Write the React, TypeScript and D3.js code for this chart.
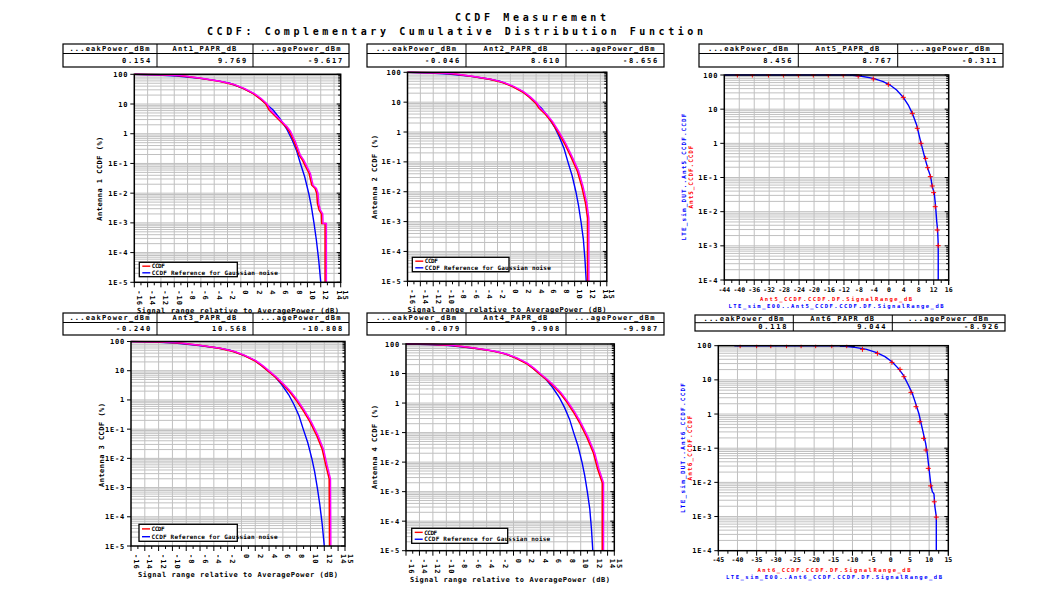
import React, { useEffect, useRef } from "react";
import * as d3 from "d3";

type Pt = [number, number];

const FONT = "'DejaVu Sans Mono', 'Liberation Mono', monospace";

const titleLines = ["CCDF Measurement", "CCDF: Complementary Cumulative Distribution Function"];

const peakHeader = "...eakPower_dBm";
const avgHeader = "...agePower_dBm";
const paprHeaders = ["Ant1_PAPR_dB", "Ant2_PAPR_dB", "Ant5_PAPR_dB", "Ant3_PAPR_dB", "Ant4_PAPR_dB", "Ant6_PAPR_dB"];
const peakValues = ["0.154", "-0.046", "8.456", "-0.240", "-0.079", "0.118"];
const paprValues = ["9.769", "8.610", "8.767", "10.568", "9.908", "9.044"];
const avgValues = ["-9.617", "-8.656", "-0.311", "-10.808", "-9.987", "-8.926"];

const yDecadeValues = [100, 10, 1, 0.1, 0.01, 0.001, 1e-4, 1e-5];
const yDecadeLabels = ["100", "10", "1", "1E-1", "1E-2", "1E-3", "1E-4", "1E-5"];

const xTicksRel = [-16, -14, -12, -10, -8, -6, -4, -2, 0, 2, 4, 6, 8, 10, 12, 14];
const xTicksAnt5 = [-44, -40, -36, -32, -28, -24, -20, -16, -12, -8, -4, 0, 4, 8, 12, 16];
const xTicksAnt6 = [-45, -40, -35, -30, -25, -20, -15, -10, -5, 0, 5, 10, 15];

const legendLabels = ["CCDF", "CCDF Reference for Gaussian noise"];
const antennaYLabels = ["Antenna 1 CCDF (%)", "Antenna 2 CCDF (%)", "Antenna 3 CCDF (%)", "Antenna 4 CCDF (%)"];
const xTitleRel = "Signal range relative to AveragePower (dB)";
const ant5YLabels = ["LTE_sim_DUT..Ant5_CCDF.CCDF", "Ant5_CCDF.CCDF"];
const ant5XLabels = ["Ant5_CCDF.CCDF.DF.SignalRange_dB", "LTE_sim_E00..Ant5_CCDF.CCDF.DF.SignalRange_dB"];
const ant6YLabels = ["LTE_sim_DUT..Ant6_CCDF.CCDF", "Ant6_CCDF.CCDF"];
const ant6XLabels = ["Ant6_CCDF.CCDF.DF.SignalRange_dB", "LTE_sim_E00..Ant6_CCDF.CCDF.DF.SignalRange_dB"];

// Antenna 1
const ant1Ccdf: Pt[] = [
  [-16, 100], [-12, 97], [-9, 90], [-6, 74], [-3, 57], [-1, 45], [0.5, 33], [2, 22], [3, 15], [3.85, 10],
  [4.35, 6.3], [5.35, 3.74], [6.1, 2.54], [6.85, 1.72], [7.35, 1.23], [8.1, 0.537], [8.85, 0.19], [9.35, 0.129],
  [9.85, 0.077], [10.35, 0.046], [10.75, 0.0186], [11.25, 0.0144], [11.5, 0.0098], [11.6, 0.0045], [11.85, 0.0027],
  [12.2, 0.002], [12.25, 0.00095], [12.75, 0.00095], [12.75, 1e-5],
];
const ant1Gauss: Pt[] = [
  [-16, 100], [-12.65, 95], [-9.65, 88], [-6.15, 73], [-3.65, 61], [-1.65, 50], [0.35, 33.7], [1.85, 22.9],
  [2.85, 15.5], [3.85, 9.8], [4.85, 6.3], [5.85, 3.3], [6.85, 1.5], [7.6, 0.7], [8.35, 0.28], [8.95, 0.1],
  [9.6, 0.035], [10.2, 0.0098], [10.6, 0.0035], [11.0, 0.00095], [11.35, 0.00026], [11.7, 5.5e-5], [12.0, 1e-5],
];
// Antenna 2
const ant2Ccdf: Pt[] = [
  [-16, 100], [-12, 97], [-9, 90], [-6, 74], [-3, 58], [-1, 45], [0.5, 33], [2, 22], [3, 15], [4, 9.5],
  [4.5, 6.5], [5.5, 4], [6.5, 2.2], [7.5, 1.0], [8.5, 0.42], [9.5, 0.15], [10.5, 0.05], [11.2, 0.015],
  [11.8, 0.004], [12.1, 0.0013], [12.1, 1e-5],
];
const ant2Gauss: Pt[] = [
  [-16, 100], [-12.65, 95], [-9.65, 88], [-6.15, 73], [-3.65, 61], [-1.65, 50], [0.35, 33.7], [1.85, 22.9],
  [2.85, 15.5], [3.85, 9.8], [4.85, 6.3], [5.85, 3.3], [6.85, 1.5], [7.6, 0.7], [8.35, 0.28], [8.95, 0.1],
  [9.6, 0.035], [10.2, 0.0098], [10.6, 0.0035], [11.0, 0.00095], [11.35, 0.00026], [11.6, 5.5e-5], [11.8, 1e-5],
];
// Antenna 3
const ant3Ccdf: Pt[] = [
  [-16, 100], [-12, 97], [-9, 90], [-6, 74], [-3, 58], [-1, 45], [0.5, 33], [2, 22], [3, 15], [4, 9.5],
  [5, 6], [6, 3.5], [7, 2], [8, 1], [9, 0.45], [10, 0.18], [11, 0.06], [11.8, 0.02], [12.3, 0.006],
  [12.8, 0.002], [12.85, 1e-5],
];
const ant3Gauss: Pt[] = [
  [-16, 100], [-12.65, 95], [-9.65, 88], [-6.15, 73], [-3.65, 61], [-1.65, 50], [0.35, 33.7], [1.85, 22.9],
  [2.85, 15.5], [3.85, 9.8], [4.85, 6.3], [5.85, 3.3], [6.85, 1.5], [7.6, 0.7], [8.35, 0.28], [8.95, 0.1],
  [9.6, 0.035], [10.2, 0.0098], [10.6, 0.0035], [11.0, 0.00095], [11.35, 0.00026], [11.7, 5.5e-5], [12.0, 1e-5],
];
// Antenna 4
const ant4Ccdf: Pt[] = [
  [-16, 100], [-12, 97], [-9, 90], [-6, 74], [-3, 58], [-1, 45], [0.5, 33], [2, 22], [3, 15], [4, 9.5],
  [5, 6.2], [6, 3.8], [7, 2.2], [8, 1.1], [9, 0.5], [10, 0.2], [11, 0.07], [12, 0.02], [12.6, 0.006],
  [13.3, 0.002], [13.3, 1e-5],
];
const ant4Gauss: Pt[] = [
  [-16, 100], [-12.65, 95], [-9.65, 88], [-6.15, 73], [-3.65, 61], [-1.65, 50], [0.35, 33.7], [1.85, 22.9],
  [2.85, 15.5], [3.85, 9.8], [4.85, 6.3], [5.85, 3.3], [6.85, 1.5], [7.6, 0.7], [8.35, 0.28], [8.95, 0.1],
  [9.6, 0.035], [10.2, 0.0098], [10.6, 0.0035], [11.0, 0.00095], [11.35, 0.00026], [11.6, 5.5e-5], [11.8, 1e-5],
];
// Antenna 5 (dataset comparison)
const ant5Sim: Pt[] = [
  [-44, 100], [-10.4, 100], [-7.7, 93.5], [-4.16, 79.8], [-1.5, 63.8], [0.3, 50.9], [2.08, 36.4], [3.86, 22.2],
  [5.2, 13.2], [6.27, 7.55], [7.43, 3.44], [8.5, 1.12], [9.65, 0.364], [10.55, 0.166], [11.17, 0.106],
  [11.6, 0.054], [12.15, 0.0344], [12.5, 0.014], [12.8, 0.0051], [13.04, 0.0029], [13.2, 0.00106], [13.2, 1e-4],
];
const ant5Meas: Pt[] = [
  [-40.5, 100], [-36.5, 100], [-32.2, 100], [-28.2, 100], [-24.2, 100], [-20.2, 100], [-16.2, 100], [-12.2, 100],
  [-8.2, 93.5], [-4.16, 76.4], [-0.15, 53.3], [3.86, 22.2], [6.27, 7.55], [7.6, 2.75], [8.6, 1.0], [9.83, 0.364],
  [10.37, 0.194], [11.08, 0.106], [11.6, 0.0564], [11.97, 0.036], [12.4, 0.014], [12.95, 0.0029], [13.2, 0.00101],
];
const ant5Other: Pt[] = [[-10.4, 100], [-8.5, 99], [-7.2, 96]];
// Antenna 6 (dataset comparison)
const ant6Sim: Pt[] = [
  [-40.8, 100], [-13.3, 100], [-9.35, 89.4], [-6.3, 78.2], [-3.7, 62.4], [-1.52, 47.6], [0.3, 34], [1.96, 21.7],
  [3.26, 13.8], [4.57, 7.06], [5.6, 4.03], [6.48, 2.05], [7.35, 1], [8.2, 0.38], [9.09, 0.138], [9.52, 0.0708],
  [9.96, 0.0257], [10.4, 0.0093], [10.83, 0.0053], [11.26, 0.0046], [11.5, 0.00195], [11.87, 0.001], [11.87, 1e-4],
];
const ant6Meas: Pt[] = [
  [-39.3, 100], [-35, 100], [-31.3, 100], [-27.2, 100], [-23.4, 100], [-19.6, 100], [-15.4, 100], [-11.5, 100],
  [-7.4, 78.2], [-3.5, 59.7], [0.3, 32.5], [2.4, 20.3], [3.43, 12.4], [5.26, 4.3], [6.57, 1.64], [7.6, 0.597],
  [8.57, 0.194], [9.17, 0.0883], [9.78, 0.0257], [10.4, 0.0079], [11.35, 0.0027], [11.87, 0.00096],
];
const ant6Other: Pt[] = [[-13.3, 99], [-11, 98.5], [-9.4, 94]];

interface Table { x: number[]; y: number[] }
interface Panel {
  idx: number;
  table: Table;
  plot: { l: number; r: number; t: number; b: number };
  xDomain: [number, number];
  xTicks: number[];
  rotateX: boolean;
  yMin: number;
  red: Pt[];
  blue: Pt[];
  other?: Pt[];
  kind: "rel" | "cmp";
  yLabel?: { text: string; x: number; y: number; len: number };
  xLabel?: { x: number; y: number; len: number };
  legend?: { x: number; y: number; w: number; h: number; len: number };
  cmpY?: { texts: string[]; x: number[]; y: number; len: number[] };
  cmpX?: { texts: string[]; y: number[]; x: number; len: number[] };
}

const panels: Panel[] = [
  {
    idx: 0,
    table: { x: [63, 157, 253, 349], y: [44, 53.5, 67] },
    plot: { l: 134.3, r: 340.7, t: 74.3, b: 282.3 },
    xDomain: [-16, 15], xTicks: xTicksRel, rotateX: true, yMin: 1e-5,
    red: ant1Ccdf, blue: ant1Gauss, kind: "rel",
    yLabel: { text: antennaYLabels[0], x: 102, y: 178.7, len: 84 },
    xLabel: { x: 238, y: 312.5, len: 202 },
    legend: { x: 139.3, y: 262.3, w: 98, h: 14.4, len: 126 },
  },
  {
    idx: 1,
    table: { x: [367, 466, 566, 664], y: [44, 53.5, 67] },
    plot: { l: 407.5, r: 606.8, t: 72.3, b: 281.3 },
    xDomain: [-16, 15], xTicks: xTicksRel, rotateX: true, yMin: 1e-5,
    red: ant2Ccdf, blue: ant2Gauss, kind: "rel",
    yLabel: { text: antennaYLabels[1], x: 377, y: 177, len: 84 },
    xLabel: { x: 507, y: 311.5, len: 199 },
    legend: { x: 412.3, y: 257.3, w: 96.7, h: 14.4, len: 126 },
  },
  {
    idx: 2,
    table: { x: [699, 798.3, 897.7, 1003], y: [44, 53.5, 67] },
    plot: { l: 724.3, r: 948.7, t: 75, b: 280 },
    xDomain: [-44, 16], xTicks: xTicksAnt5, rotateX: false, yMin: 1e-4,
    red: ant5Meas, blue: ant5Sim, other: ant5Other, kind: "cmp",
    cmpY: { texts: ant5YLabels, x: [686, 692.5], y: 177, len: [127, 63] },
    cmpX: { texts: ant5XLabels, y: [300.5, 307.5], x: 836, len: [152, 215] },
  },
  {
    idx: 3,
    table: { x: [63, 157, 253, 349], y: [313, 322.5, 335] },
    plot: { l: 131, r: 345, t: 341.5, b: 546 },
    xDomain: [-16, 15], xTicks: xTicksRel, rotateX: true, yMin: 1e-5,
    red: ant3Ccdf, blue: ant3Gauss, kind: "rel",
    yLabel: { text: antennaYLabels[2], x: 104, y: 445, len: 84 },
    xLabel: { x: 238, y: 576.5, len: 200 },
    legend: { x: 139, y: 524.3, w: 98.3, h: 17, len: 126 },
  },
  {
    idx: 4,
    table: { x: [367, 466, 566, 664], y: [313, 322.5, 335] },
    plot: { l: 406, r: 614.3, t: 344, b: 550.7 },
    xDomain: [-16, 15], xTicks: xTicksRel, rotateX: true, yMin: 1e-5,
    red: ant4Ccdf, blue: ant4Gauss, kind: "rel",
    yLabel: { text: antennaYLabels[3], x: 377, y: 447, len: 84 },
    xLabel: { x: 510, y: 581.5, len: 200 },
    legend: { x: 411.7, y: 528.3, w: 96, h: 15, len: 126 },
  },
  {
    idx: 5,
    table: { x: [695, 793.3, 892.3, 1005], y: [315, 322.7, 331] },
    plot: { l: 718.3, r: 948.3, t: 345.7, b: 550.7 },
    xDomain: [-45, 15], xTicks: xTicksAnt6, rotateX: false, yMin: 1e-4,
    red: ant6Meas, blue: ant6Sim, other: ant6Other, kind: "cmp",
    cmpY: { texts: ant6YLabels, x: [685, 691.5], y: 448, len: [130, 65] },
    cmpX: { texts: ant6XLabels, y: [571.5, 578.5], x: 834, len: [153, 216] },
  },
];

function drawPanel(svg: d3.Selection<SVGSVGElement, unknown, null, undefined>, p: Panel) {
  const g = svg.append("g");
  const t = p.table;
  // table
  g.append("rect").attr("x", t.x[0]).attr("y", t.y[0]).attr("width", t.x[3] - t.x[0]).attr("height", t.y[2] - t.y[0])
    .attr("fill", "none").attr("stroke", "#000").attr("stroke-width", 1.2);
  g.append("line").attr("x1", t.x[0]).attr("x2", t.x[3]).attr("y1", t.y[1]).attr("y2", t.y[1]).attr("stroke", "#000");
  [1, 2].forEach((i) => g.append("line").attr("x1", t.x[i]).attr("x2", t.x[i]).attr("y1", t.y[0]).attr("y2", t.y[2]).attr("stroke", "#000"));
  const headers = [peakHeader, paprHeaders[p.idx], avgHeader];
  const values = [peakValues[p.idx], paprValues[p.idx], avgValues[p.idx]];
  headers.forEach((h, i) => {
    g.append("text").attr("x", (t.x[i] + t.x[i + 1]) / 2).attr("y", (t.y[0] + t.y[1]) / 2 + 2.5)
      .attr("text-anchor", "middle").attr("font-family", FONT).attr("font-weight", "bold").attr("font-size", 7)
      .attr("letter-spacing", 1.2).text(h);
  });
  values.forEach((v, i) => {
    g.append("text").attr("x", t.x[i + 1] - 5).attr("y", (t.y[1] + t.y[2]) / 2 + 2.5)
      .attr("text-anchor", "end").attr("font-family", FONT).attr("font-weight", "bold").attr("font-size", 7)
      .attr("letter-spacing", 1.8).text(v);
  });

  const { l, r, t: top, b } = p.plot;
  const x = d3.scaleLinear().domain(p.xDomain).range([l, r]);
  const y = d3.scaleLog().domain([p.yMin, 100]).range([b, top]);

  // grid
  const grid = g.append("g").attr("stroke", "#c0c0c0").attr("stroke-width", 1);
  const decades = yDecadeValues.filter((v) => v >= p.yMin && v < 100);
  const minorVals: number[] = [];
  decades.forEach((d) => { for (let k = 1; k <= 9; k++) minorVals.push(d * k); });
  minorVals.forEach((v) => {
    if (v <= p.yMin || v >= 100) return;
    grid.append("line").attr("x1", l).attr("x2", r).attr("y1", y(v)).attr("y2", y(v));
  });
  p.xTicks.forEach((v) => {
    if (v <= p.xDomain[0] || v >= p.xDomain[1]) return;
    grid.append("line").attr("x1", x(v)).attr("x2", x(v)).attr("y1", top).attr("y2", b);
  });

  // clip
  const cid = `clip${p.idx}`;
  svg.append("clipPath").attr("id", cid).append("rect").attr("x", l).attr("y", top - 1).attr("width", r - l).attr("height", b - top + 2);
  const curves = g.append("g").attr("clip-path", `url(#${cid})`);
  const line = d3.line<Pt>().x((d) => x(d[0])).y((d) => y(d[1]));

  if (p.kind === "rel") {
    curves.append("path").attr("d", line(p.blue)).attr("fill", "none").attr("stroke", "#0000ff").attr("stroke-width", 1.4);
    curves.append("path").attr("d", line(p.red)).attr("fill", "none").attr("stroke", "#ff0000").attr("stroke-width", 1.6)
      .attr("transform", "translate(-0.6,0)");
    curves.append("path").attr("d", line(p.red)).attr("fill", "none").attr("stroke", "#ff00ff").attr("stroke-width", 1.4)
      .attr("transform", "translate(0.7,0)");
  } else {
    if (p.other) {
      curves.append("path").attr("d", line(p.other)).attr("fill", "none").attr("stroke", "#000").attr("stroke-width", 1.6);
    }
    curves.append("path").attr("d", line(p.blue)).attr("fill", "none").attr("stroke", "#0000ff").attr("stroke-width", 1.4);
    const m = curves.append("g").attr("stroke", "#ff0000").attr("stroke-width", 1);
    p.red.forEach((d) => {
      const cx = x(d[0]), cy = y(d[1]);
      m.append("line").attr("x1", cx - 2.5).attr("x2", cx + 2.5).attr("y1", cy).attr("y2", cy);
      m.append("line").attr("x1", cx).attr("x2", cx).attr("y1", cy - 2.5).attr("y2", cy + 2.5);
    });
  }

  // frame
  g.append("rect").attr("x", l).attr("y", top).attr("width", r - l).attr("height", b - top)
    .attr("fill", "none").attr("stroke", "#000").attr("stroke-width", 1.5);

  // y ticks + right minor ticks
  const tk = g.append("g").attr("stroke", "#000").attr("stroke-width", 1);
  minorVals.concat([100]).forEach((v) => {
    if (v < p.yMin || v > 100) return;
    const isMajor = Math.abs(Math.log10(v) - Math.round(Math.log10(v))) < 1e-6;
    tk.append("line").attr("x1", r).attr("x2", r - (isMajor ? 4 : 2.5)).attr("y1", y(v)).attr("y2", y(v));
    tk.append("line").attr("x1", l).attr("x2", l - (isMajor ? 4 : 0)).attr("y1", y(v)).attr("y2", y(v));
  });
  yDecadeValues.forEach((v, i) => {
    if (v < p.yMin) return;
    g.append("text").attr("x", l - 6).attr("y", y(v) + 2.5).attr("text-anchor", "end")
      .attr("font-family", FONT).attr("font-weight", "bold").attr("font-size", 7).attr("letter-spacing", 0.8)
      .text(yDecadeLabels[i]);
  });

  // x ticks
  const step = p.xTicks[1] - p.xTicks[0];
  const allTicks = p.xTicks.concat([p.xDomain[1]]);
  allTicks.forEach((v) => {
    if (v < p.xDomain[0] - 1e-9 || v > p.xDomain[1] + 1e-9) return;
    tk.append("line").attr("x1", x(v)).attr("x2", x(v)).attr("y1", b).attr("y2", b + 5);
  });
  for (let v = p.xDomain[0] + step / 2; v < p.xDomain[1]; v += step) {
    tk.append("line").attr("x1", x(v)).attr("x2", x(v)).attr("y1", b).attr("y2", b + 3);
  }
  const labelTicks = p.xTicks.filter((v) => v >= p.xDomain[0] && v <= p.xDomain[1]);
  if (p.xDomain[1] !== labelTicks[labelTicks.length - 1]) labelTicks.push(p.xDomain[1]);
  labelTicks.forEach((v) => {
    if (p.rotateX) {
      g.append("text").attr("transform", `translate(${x(v) + 2.5},${b + 8}) rotate(90)`)
        .attr("text-anchor", "start").attr("font-family", FONT).attr("font-weight", "bold").attr("font-size", 7)
        .attr("letter-spacing", 1).text(String(v));
    } else {
      g.append("text").attr("x", x(v)).attr("y", b + 11.5).attr("text-anchor", "middle")
        .attr("font-family", FONT).attr("font-weight", "bold").attr("font-size", 6.5).text(String(v));
    }
  });

  if (p.kind === "rel") {
    const yl = p.yLabel!;
    g.append("text").attr("transform", `translate(${yl.x},${yl.y}) rotate(-90)`).attr("text-anchor", "middle")
      .attr("font-family", FONT).attr("font-weight", "bold").attr("font-size", 7)
      .attr("textLength", yl.len).attr("lengthAdjust", "spacing").text(yl.text);
    const xl = p.xLabel!;
    g.append("text").attr("x", xl.x).attr("y", xl.y).attr("text-anchor", "middle")
      .attr("font-family", FONT).attr("font-weight", "bold").attr("font-size", 7)
      .attr("textLength", xl.len).attr("lengthAdjust", "spacing").text(xTitleRel);
    const lg = p.legend!;
    g.append("rect").attr("x", lg.x).attr("y", lg.y).attr("width", lg.w).attr("height", lg.h)
      .attr("fill", "#fff").attr("stroke", "#000").attr("stroke-width", 1.3);
    const rows = [lg.y + lg.h * 0.27, lg.y + lg.h * 0.73];
    const cols = ["#ff0000", "#0000ff"];
    legendLabels.forEach((txt, i) => {
      g.append("line").attr("x1", lg.x + 3).attr("x2", lg.x + 11).attr("y1", rows[i]).attr("y2", rows[i])
        .attr("stroke", cols[i]).attr("stroke-width", 1.4);
      const tl = i === 0 ? 13 : lg.len;
      g.append("text").attr("x", lg.x + 12.5).attr("y", rows[i] + 2.2).attr("font-family", FONT)
        .attr("font-weight", "bold").attr("font-size", 6).attr("textLength", tl).attr("lengthAdjust", "spacing").text(txt);
    });
  } else {
    const cy = p.cmpY!;
    const ycols = ["#0000ff", "#ff0000"];
    cy.texts.forEach((txt, i) => {
      g.append("text").attr("transform", `translate(${cy.x[i]},${cy.y}) rotate(-90)`).attr("text-anchor", "middle")
        .attr("font-family", FONT).attr("font-weight", "bold").attr("font-size", 6).attr("fill", ycols[i])
        .attr("textLength", cy.len[i]).attr("lengthAdjust", "spacing").text(txt);
    });
    const cx = p.cmpX!;
    const xcols = ["#ff0000", "#0000ff"];
    cx.texts.forEach((txt, i) => {
      g.append("text").attr("x", cx.x).attr("y", cx.y[i]).attr("text-anchor", "middle")
        .attr("font-family", FONT).attr("font-weight", "bold").attr("font-size", 5.5).attr("fill", xcols[i])
        .attr("textLength", cx.len[i]).attr("lengthAdjust", "spacing").text(txt);
    });
  }
}

export default function App() {
  const ref = useRef<SVGSVGElement>(null);
  useEffect(() => {
    if (!ref.current) return;
    const svg = d3.select(ref.current);
    svg.selectAll("*").remove();
    svg.append("rect").attr("width", 1043).attr("height", 605).attr("fill", "#fff");
    svg.append("text").attr("x", 530.5).attr("y", 21).attr("text-anchor", "middle").attr("font-family", FONT)
      .attr("font-weight", "bold").attr("font-size", 10).attr("textLength", 151).attr("lengthAdjust", "spacing").text(titleLines[0]);
    svg.append("text").attr("x", 455).attr("y", 34.5).attr("text-anchor", "middle").attr("font-family", FONT)
      .attr("font-weight", "bold").attr("font-size", 10).attr("textLength", 496).attr("lengthAdjust", "spacing").text(titleLines[1]);
    panels.forEach((p) => drawPanel(svg as any, p));
  }, []);
  return (
    <svg ref={ref} width={1043} height={605} style={{ position: "absolute", left: 0, top: 0, background: "#fff" }} />
  );
}
